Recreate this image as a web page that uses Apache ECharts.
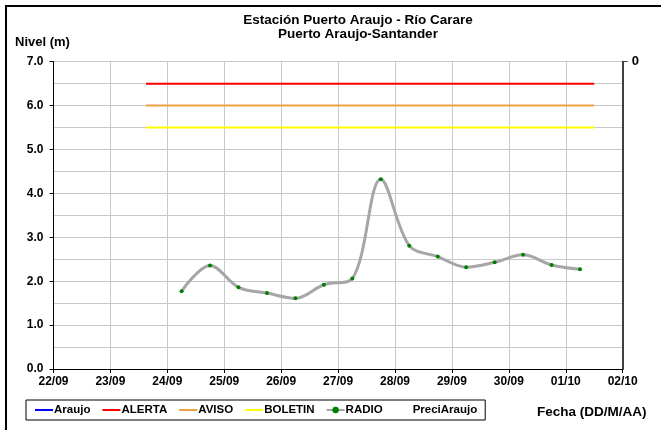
<!DOCTYPE html>
<html>
<head>
<meta charset="utf-8">
<script src="https://cdn.jsdelivr.net/npm/echarts@6/dist/echarts.min.js"></script>
<style>html,body{margin:0;padding:0;background:#fff;}#c{width:661px;height:430px;}</style>
</head>
<body>
<div id="c"></div>
<script>
// ---- data ----
const xTickLabels = ['22/09','23/09','24/09','25/09','26/09','27/09','28/09','29/09','30/09','01/10','02/10'];
const radioTimes = ['24/09 06:00','24/09 18:00','25/09 06:00','25/09 18:00','26/09 06:00','26/09 18:00','27/09 06:00','27/09 18:00','28/09 06:00','28/09 18:00','29/09 06:00','29/09 18:00','30/09 06:00','30/09 18:00','01/10 06:00'];
const radioValues = [1.77, 2.36, 1.86, 1.73, 1.61, 1.92, 2.06, 4.32, 2.81, 2.56, 2.32, 2.43, 2.60, 2.37, 2.27];
const thresholdTimes = ['23/09 15:00','01/10 12:00'];
const alertaLevel = 6.5;
const avisoLevel = 6.0;
const boletinLevel = 5.5;
const araujoValues = [];
const preciValues = [];

// convert 'DD/MM HH:mm' into days since 22/09 00:00
function dayOffset(s){
  const [d, t] = s.split(' ');
  const [dd, mm] = d.split('/').map(Number);
  const [hh, mi] = (t || '00:00').split(':').map(Number);
  const base = mm === 9 ? dd - 22 : dd + 8;
  return base + (hh + mi / 60) / 24;
}
const radioData = radioTimes.map((t, i) => [dayOffset(t), radioValues[i]]);
const lvl = v => thresholdTimes.map(t => [dayOffset(t), v]);

const FONT = '"Liberation Sans", Arial, sans-serif';
const chart = echarts.init(document.getElementById('c'));
const hideSym = { opacity: 0 };
chart.setOption({
  animation: false,
  textStyle: { fontFamily: FONT },
  title: {
    text: 'Estación Puerto Araujo - Río Carare\nPuerto Araujo-Santander',
    left: 353, top: 9, textAlign: 'center',
    textStyle: { fontSize: 13.5, fontWeight: 'bold', color: '#000', lineHeight: 13.5, fontFamily: FONT }
  },
  graphic: [
    { type: 'rect', shape: { x: 6, y: 6, width: 680, height: 460 }, style: { fill: 'none', stroke: '#000', lineWidth: 2 }, silent: true },
    { type: 'text', left: 15, top: 36, style: { text: 'Nivel (m)', font: 'bold 13px ' + FONT, fill: '#000' } },
    { type: 'text', left: 537, top: 405, style: { text: 'Fecha (DD/M/AA)', font: 'bold 13.5px ' + FONT, fill: '#000' } }
  ],
  legend: {
    left: 26, top: 400, width: 470,
    padding: [4, 8, 4, 8],
    borderColor: '#000', borderWidth: 1,
    itemWidth: 18, itemHeight: 8, itemGap: 11,
    textStyle: { fontSize: 11.5, fontWeight: 'bold', color: '#000', fontFamily: FONT, padding: [0, 0, 0, -4] },
    data: [
      { name: 'Araujo', itemStyle: hideSym },
      { name: 'ALERTA', itemStyle: hideSym },
      { name: 'AVISO', itemStyle: hideSym },
      { name: 'BOLETIN', itemStyle: hideSym },
      'RADIO',
      { name: 'PreciAraujo', itemStyle: hideSym }
    ]
  },
  grid: { left: 53.5, right: 38.3, top: 61.7, bottom: 61, containLabel: false },
  xAxis: {
    type: 'value', min: 0, max: 10, interval: 1,
    axisLine: { show: true, lineStyle: { color: '#000', width: 1 } },
    axisTick: { show: true, length: 4, lineStyle: { color: '#000' } },
    axisLabel: { formatter: v => xTickLabels[Math.round(v)], fontSize: 12, fontWeight: 'bold', color: '#000', margin: 7, fontFamily: FONT },
    splitLine: { show: true, lineStyle: { color: '#c8c8c8', width: 1 } }
  },
  yAxis: [
    {
      type: 'value', min: 0, max: 7, interval: 1,
      axisLine: { show: true, lineStyle: { color: '#000', width: 1 } },
      axisTick: { show: true, length: 4, lineStyle: { color: '#000' } },
      axisLabel: { formatter: v => v.toFixed(1), fontSize: 12, fontWeight: 'bold', color: '#000', margin: 10, fontFamily: FONT },
      splitLine: { show: true, lineStyle: { color: '#c8c8c8', width: 1 } },
      minorTick: { show: false, splitNumber: 2 },
      minorSplitLine: { show: true, lineStyle: { color: '#c8c8c8', width: 1 } }
    },
    {
      type: 'value', min: 0, max: 1, inverse: true, position: 'right',
      axisLine: { show: true, lineStyle: { color: '#404040', width: 2 } },
      axisTick: { show: true, length: 5, inside: false, customValues: [0], lineStyle: { color: '#404040', width: 1 } },
      axisLabel: { customValues: [0], formatter: v => String(v), fontSize: 13, fontWeight: 'bold', color: '#000', margin: 9, fontFamily: FONT },
      splitLine: { show: false }
    }
  ],
  series: [
    { name: 'Araujo', type: 'line', data: araujoValues, symbol: 'none', lineStyle: { color: '#0000ff', width: 2 }, itemStyle: { color: '#0000ff' } },
    { name: 'ALERTA', type: 'line', data: lvl(alertaLevel), symbol: 'none', lineStyle: { color: '#ff0000', width: 2 }, itemStyle: { color: '#ff0000' } },
    { name: 'AVISO', type: 'line', data: lvl(avisoLevel), symbol: 'none', lineStyle: { color: '#f0a040', width: 2 }, itemStyle: { color: '#f0a040' } },
    { name: 'BOLETIN', type: 'line', data: lvl(boletinLevel), symbol: 'none', lineStyle: { color: '#ffff00', width: 2 }, itemStyle: { color: '#ffff00' } },
    { name: 'RADIO', type: 'line', data: radioData, smooth: 0.35, symbol: 'circle', symbolSize: 4, showSymbol: true,
      lineStyle: { color: '#a6a6a6', width: 3 }, itemStyle: { color: '#008000' } },
    { name: 'PreciAraujo', type: 'bar', yAxisIndex: 1, data: preciValues, itemStyle: { color: 'transparent' } }
  ]
});
</script>
</body>
</html>
